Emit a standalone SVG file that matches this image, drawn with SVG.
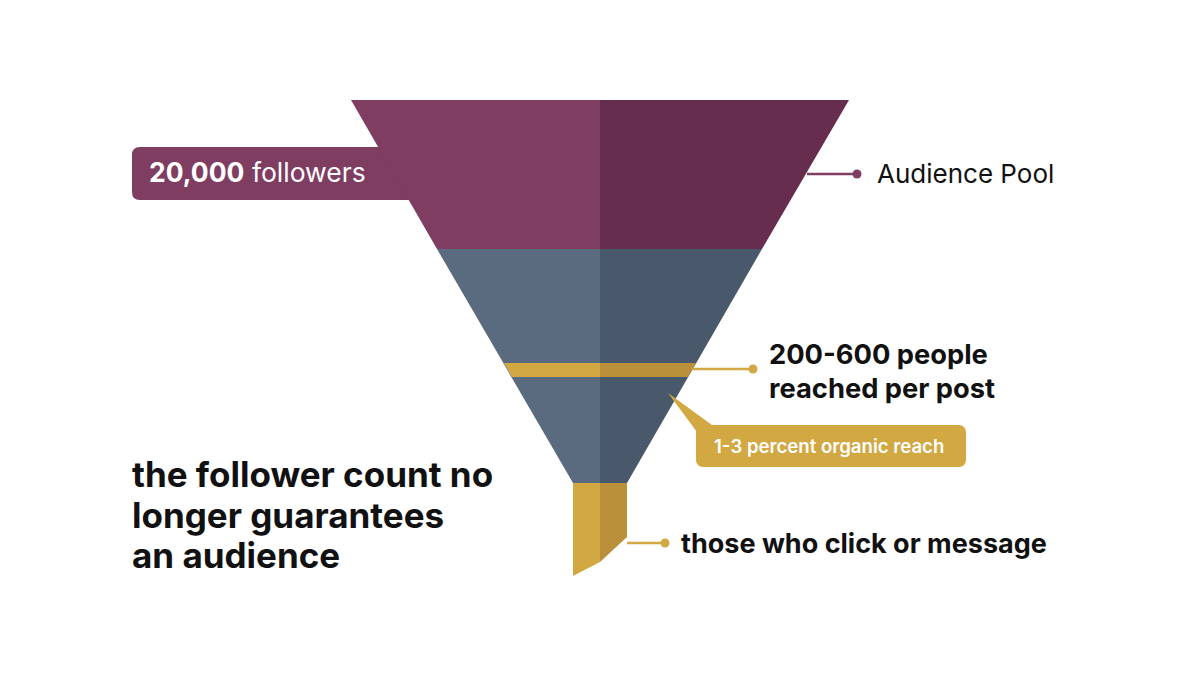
<svg xmlns="http://www.w3.org/2000/svg" width="1200" height="675" viewBox="0 0 1200 675">
<style>
text{font-family:Inter,"Liberation Sans",sans-serif}
.b{font-weight:700;fill:#111}
.ln{stroke-width:2.5;fill:none}
</style>
<rect width="1200" height="675" fill="#fff"/>
<g id="label-followers">
<path d="M140,147 H420 V200 H140 Q132,200 132,192 V155 Q132,147 140,147 Z" fill="#7F3D62"/>
</g>
<g id="funnel">
<polygon points="351,100 600,100 600,249 437,249" fill="#7F3D62"/>
<polygon points="600,100 849,100 762,249 600,249" fill="#662D4E"/>
<polygon points="437,249 600,249 600,483 573,483" fill="#5A6B80"/>
<polygon points="600,249 762,249 627,483 600,483" fill="#4A586B"/>
<polygon points="504,363 600,363 600,377 512,377" fill="#D2A843"/>
<polygon points="600,363 696,363 688,377 600,377" fill="#BA903A"/>
<polygon points="573,483 600,483 600,562 573,576" fill="#D2A843"/>
<polygon points="600,483 627,483 627,537 600,562" fill="#BA903A"/>
</g>
<text x="149" y="182" font-size="26.5" fill="#fff"><tspan font-weight="700">20,000</tspan> followers</text>
<g id="connectors">
<line x1="807" y1="174" x2="857" y2="174" stroke="#7F3D62" class="ln"/>
<circle cx="857" cy="174" r="4.5" fill="#7F3D62"/>
<line x1="692" y1="369" x2="753" y2="369" stroke="#D2A843" class="ln"/>
<circle cx="753" cy="369" r="4.5" fill="#D2A843"/>
<line x1="627" y1="543" x2="665" y2="543" stroke="#D2A843" class="ln"/>
<circle cx="665" cy="543" r="4.5" fill="#D2A843"/>
</g>
<g id="audience-pool"><text x="877" y="183" font-size="26" fill="#111">Audience Pool</text></g>
<g id="reached"><text x="769" y="364" font-size="27.3" class="b">200-600 people</text>
<text x="769" y="398" font-size="27.3" class="b">reached per post</text></g>
<g id="organic">
<polygon points="668,393 712,425 697,432" fill="#D2A843"/>
<rect x="696" y="425" width="270" height="42" rx="7" fill="#D2A843"/>
<text x="714" y="453" font-size="18.6" font-weight="600" fill="#fff">1-3 percent organic reach</text>
</g>
<g id="click"><text x="681" y="553" font-size="27" class="b">those who click or message</text></g>
<g id="caption">
<text x="132" y="487" font-size="35" class="b">the follower count no</text>
<text x="132" y="528" font-size="35" class="b">longer guarantees</text>
<text x="132" y="568" font-size="35" class="b">an audience</text>
</g>
</svg>
